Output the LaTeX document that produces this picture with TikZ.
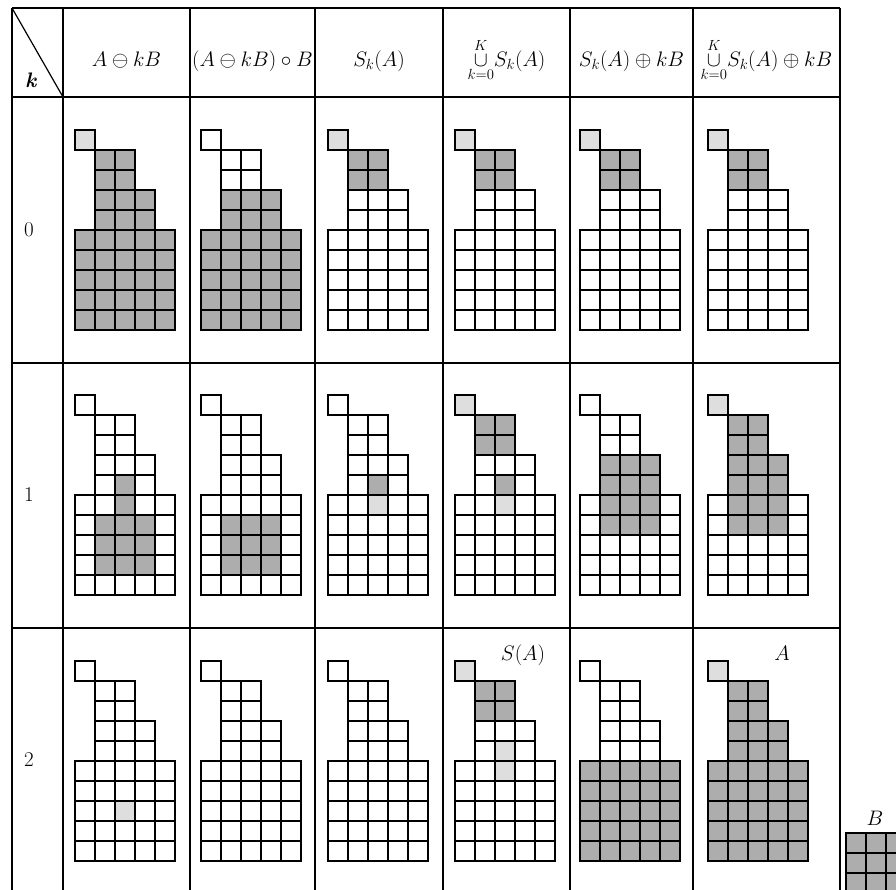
\RequirePackage{fix-cm}
\documentclass[tikz,border=0pt]{standalone}
\usepackage{amsmath}
\tikzset{
  dk/.style={fill=black!32},
  lt/.style={fill=black!13},
  gridline/.style={draw=black, line width=1.4pt},
  tabline/.style={draw=black, line width=1.2pt},
  hdr/.style={font=\fontsize{21}{25}\selectfont, anchor=base, inner sep=0pt},
  lbl/.style={font=\fontsize{21}{25}\selectfont, inner sep=0pt},
}
\newcommand{\cellsA}{0/0,1/1,1/2,2/1,2/2,3/1,3/2,3/3,4/1,4/2,4/3,5/0,5/1,5/2,5/3,5/4,6/0,6/1,6/2,6/3,6/4,7/0,7/1,7/2,7/3,7/4,8/0,8/1,8/2,8/3,8/4,9/0,9/1,9/2,9/3,9/4}
\newcommand{\cellsAnotop}{1/1,1/2,2/1,2/2,3/1,3/2,3/3,4/1,4/2,4/3,5/0,5/1,5/2,5/3,5/4,6/0,6/1,6/2,6/3,6/4,7/0,7/1,7/2,7/3,7/4,8/0,8/1,8/2,8/3,8/4,9/0,9/1,9/2,9/3,9/4}
\newcommand{\cellsBlock}{5/0,5/1,5/2,5/3,5/4,6/0,6/1,6/2,6/3,6/4,7/0,7/1,7/2,7/3,7/4,8/0,8/1,8/2,8/3,8/4,9/0,9/1,9/2,9/3,9/4}
\newcommand{\cellsTop}{1/1,1/2,2/1,2/2}
% fill cells: x, y, style, list
\newcommand{\fillcells}[4]{%
  \begin{scope}[shift={(#1,#2)}]
    \edef\mycelllist{#4}%
    \foreach \r/\c in \mycelllist {\fill[#3] (\c*20,\r*20) rectangle ++(20,20);}
  \end{scope}}
% outline of shape A at x, y
\newcommand{\outlineA}[2]{%
  \begin{scope}[shift={(#1,#2)}]
    \foreach \r/\c in \cellsA {\draw[gridline] (\c*20,\r*20) rectangle ++(20,20);}
  \end{scope}}
\begin{document}
\begin{tikzpicture}[x=1pt,y=-1pt]
\useasboundingbox (0,0) rectangle (896,889);
\clip (0,0) rectangle (896,889);
\fill[white] (0,0) rectangle (896,889);

% ---- table lines ----
\foreach \yy in {8,97,363,628}{\draw[tabline] (12,\yy) -- (840,\yy);}
\foreach \xx in {12,63,190,315,443,570,693,840}{\draw[tabline] (\xx,8) -- (\xx,895);}
\draw[tabline] (12,8) -- (63,97);

% ---- header ----
\node[lbl] (hk) at (31,80) {\textbf{\textit{k}}};
\node[hdr] (h1) at (126.5,66) {$A\ominus kB$};
\node[hdr] (h2) at (252.5,66) {$(A\ominus kB)\circ B$};
\node[hdr] (h3) at (379,66) {$S_k(A)$};
\node[hdr] (h4) at (506.5,66) {$\mathop{\cup}\limits_{k=0}^{K}\! S_k(A)$};
\node[hdr] (h5) at (631.5,66) {$S_k(A)\oplus kB$};
\node[hdr] (h6) at (766.5,66) {$\mathop{\cup}\limits_{k=0}^{K}\! S_k(A)\oplus kB$};

% ---- row labels ----
\node[lbl] (r0) at (29,230) {0};
\node[lbl] (r1) at (29,495) {1};
\node[lbl] (r2) at (29,760) {2};

% ---- row k = 0 (y = 130) ----
\fillcells{75}{130}{dk}{\cellsAnotop}
\fillcells{75}{130}{lt}{0/0}
\outlineA{75}{130}
\fillcells{201}{130}{dk}{3/1,3/2,3/3,4/1,4/2,4/3}
\fillcells{201}{130}{dk}{\cellsBlock}
\outlineA{201}{130}
\fillcells{328}{130}{dk}{\cellsTop}
\fillcells{328}{130}{lt}{0/0}
\outlineA{328}{130}
\fillcells{455}{130}{dk}{\cellsTop}
\fillcells{455}{130}{lt}{0/0}
\outlineA{455}{130}
\fillcells{580}{130}{dk}{\cellsTop}
\fillcells{580}{130}{lt}{0/0}
\outlineA{580}{130}
\fillcells{708}{130}{dk}{\cellsTop}
\fillcells{708}{130}{lt}{0/0}
\outlineA{708}{130}

% ---- row k = 1 (y = 395) ----
\fillcells{75}{395}{dk}{4/2,5/2,6/1,6/2,6/3,7/1,7/2,7/3,8/1,8/2,8/3}
\outlineA{75}{395}
\fillcells{201}{395}{dk}{6/1,6/2,6/3,7/1,7/2,7/3,8/1,8/2,8/3}
\outlineA{201}{395}
\fillcells{328}{395}{dk}{4/2}
\fillcells{328}{395}{lt}{5/2}
\outlineA{328}{395}
\fillcells{455}{395}{dk}{1/1,1/2,2/1,2/2,4/2}
\fillcells{455}{395}{lt}{0/0,5/2}
\outlineA{455}{395}
\fillcells{580}{395}{dk}{3/1,3/2,3/3,4/1,4/2,4/3,5/1,5/2,5/3,6/1,6/2,6/3}
\outlineA{580}{395}
\fillcells{708}{395}{dk}{1/1,1/2,2/1,2/2,3/1,3/2,3/3,4/1,4/2,4/3,5/1,5/2,5/3,6/1,6/2,6/3}
\fillcells{708}{395}{lt}{0/0}
\outlineA{708}{395}

% ---- row k = 2 (y = 661) ----
\fillcells{75}{661}{lt}{7/2}
\outlineA{75}{661}
\outlineA{201}{661}
\outlineA{328}{661}
\fillcells{455}{661}{dk}{\cellsTop}
\fillcells{455}{661}{lt}{0/0,4/2,5/2}
\outlineA{455}{661}
\fillcells{580}{661}{dk}{\cellsBlock}
\outlineA{580}{661}
\fillcells{708}{661}{dk}{\cellsAnotop}
\fillcells{708}{661}{lt}{0/0}
\outlineA{708}{661}

\node[lbl] (sa) at (523,655) {$S(A)$};
\node[lbl] (la) at (782,653) {$A$};

% ---- structuring element B ----
\node[lbl] (lb) at (875,818) {$B$};
\begin{scope}[shift={(846,833)}]
  \foreach \r in {0,1,2}{\foreach \c in {0,1,2}{
    \fill[dk] (\c*20,\r*20) rectangle ++(20,20);
    \draw[gridline] (\c*20,\r*20) rectangle ++(20,20);}}
\end{scope}
\end{tikzpicture}
\end{document}
